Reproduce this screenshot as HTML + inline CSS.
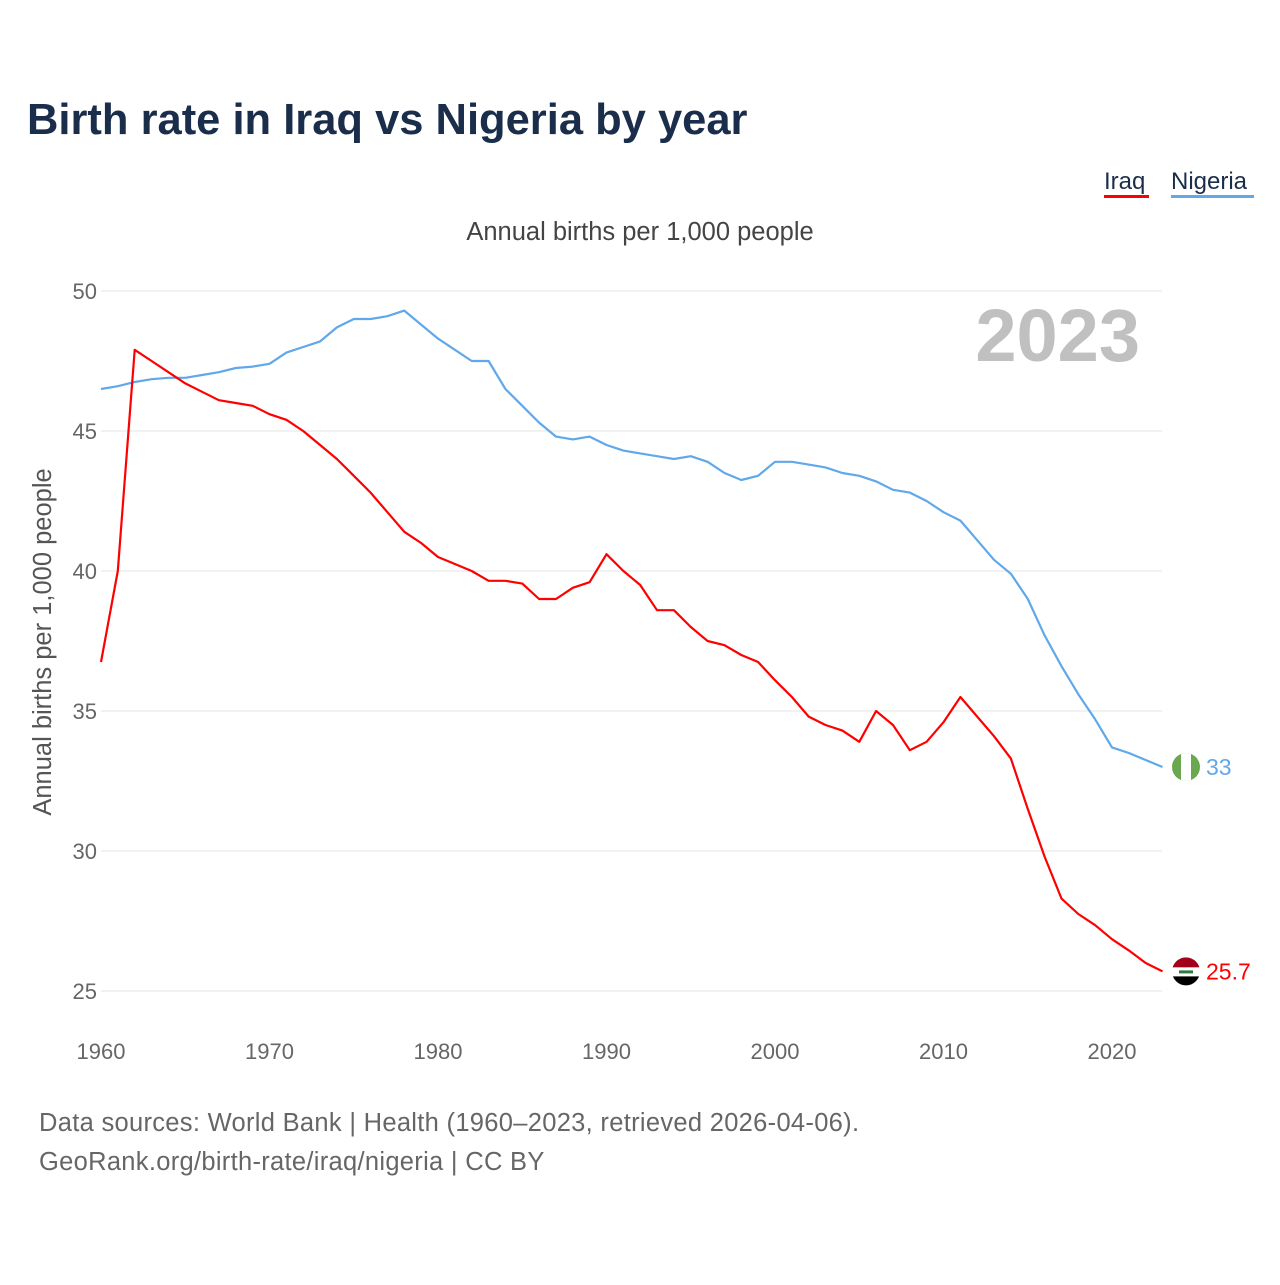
<!DOCTYPE html>
<html><head><meta charset="utf-8"><style>
html,body{margin:0;padding:0;background:#fff;}
body{width:1280px;height:1280px;overflow:hidden;font-family:"Liberation Sans",sans-serif;}
</style></head><body>
<svg id="chart" width="1280" height="1280" xmlns="http://www.w3.org/2000/svg" font-family="Liberation Sans, sans-serif">
<text x="27" y="134" font-size="43.5" font-weight="bold" fill="#1a2e4c">Birth rate in Iraq vs Nigeria by year</text>
<g>
<text x="1104" y="189" font-size="24" fill="#1a2e4c">Iraq</text>
<rect x="1104" y="195" width="45" height="3" fill="#ff0000"/>
<text x="1171" y="189" font-size="24" fill="#1a2e4c">Nigeria</text>
<rect x="1171" y="195" width="83" height="3" fill="#60a8ea"/>
</g>
<text x="640" y="240" font-size="25.5" fill="#444" text-anchor="middle">Annual births per 1,000 people</text>
<text transform="translate(51,642) rotate(-90)" font-size="25.5" fill="#555" text-anchor="middle">Annual births per 1,000 people</text>
<text x="1140" y="361" font-size="74" font-weight="bold" fill="#c0c0c0" text-anchor="end">2023</text>
<g id="grid"></g><g id="xt"></g><g id="lines"></g><g id="ends"></g>
<text x="39" y="1131" font-size="25.5" letter-spacing="0.3" fill="#666">Data sources: World Bank | Health (1960–2023, retrieved 2026-04-06).</text>
<text x="39" y="1170" font-size="25.5" letter-spacing="0.3" fill="#666">GeoRank.org/birth-rate/iraq/nigeria | CC BY</text>
</svg>
<script>
const startYear = 1960;
const yTicks = [25,30,35,40,45,50];
const xTicks = [1960,1970,1980,1990,2000,2010,2020];
const iraq = [36.75,40.0,47.9,47.5,47.1,46.7,46.4,46.1,46.0,45.9,45.6,45.4,45.0,44.5,44.0,43.4,42.8,42.1,41.4,41.0,40.5,40.25,40.0,39.65,39.65,39.55,39.0,39.0,39.4,39.6,40.6,40.0,39.5,38.6,38.6,38.0,37.5,37.35,37.0,36.75,36.1,35.5,34.8,34.5,34.3,33.9,35.0,34.5,33.6,33.9,34.6,35.5,34.8,34.1,33.3,31.5,29.8,28.3,27.75,27.35,26.85,26.45,26.0,25.7];
const nigeria = [46.5,46.6,46.75,46.85,46.9,46.9,47.0,47.1,47.25,47.3,47.4,47.8,48.0,48.2,48.7,49.0,49.0,49.1,49.3,48.8,48.3,47.9,47.5,47.5,46.5,45.9,45.3,44.8,44.7,44.8,44.5,44.3,44.2,44.1,44.0,44.1,43.9,43.5,43.25,43.4,43.9,43.9,43.8,43.7,43.5,43.4,43.2,42.9,42.8,42.5,42.1,41.8,41.1,40.4,39.9,39.0,37.7,36.6,35.6,34.7,33.7,33.5,33.25,33.0];
const NS="http://www.w3.org/2000/svg";
const x = yr => 101 + (yr-1960)*(1112-101)/60;
const y = v => 291 + (50-v)*28;
function mk(tag, attrs, parent){const e=document.createElementNS(NS,tag);for(const k in attrs)e.setAttribute(k,attrs[k]);parent.appendChild(e);return e;}
const grid=document.getElementById('grid');
yTicks.forEach(t=>{
  const l=mk('line',{x1:101,x2:1162,y1:y(t),y2:y(t),stroke:'#e4e4e4','stroke-width':1},grid);
  
  
  const tx=mk('text',{x:97,y:y(t)+8,'font-size':22,fill:'#666','text-anchor':'end'},grid);
  tx.textContent=t;
  
  
});
const xt=document.getElementById('xt');
xTicks.forEach(t=>{
  const tx=mk('text',{x:x(t),y:1059,'font-size':22,fill:'#666','text-anchor':'middle'},xt);
  tx.textContent=t;
  
  
});
const lines=document.getElementById('lines');
function drawLine(data,color,name){
  const d=data.map((v,i)=>(i?'L':'M')+x(startYear+i).toFixed(1)+','+y(v).toFixed(1)).join(' ');
  const p=mk('path',{d:d,fill:'none',stroke:color,'stroke-width':2.2,'stroke-linejoin':'round'},lines);
  
  
}
drawLine(nigeria,'#60a8ea','line-nigeria');
drawLine(iraq,'#ff0000','line-iraq');
const ends=document.getElementById('ends');
const ny=y(nigeria[nigeria.length-1]);
const ng=mk('g',{},ends);


mk('clipPath',{id:'cn'},ng).appendChild(document.createElementNS(NS,'circle')).setAttribute('r','14');
const cnc=document.querySelector('#cn circle');cnc.setAttribute('cx',1186);cnc.setAttribute('cy',ny);
mk('rect',{x:1172,y:ny-14,width:28,height:28,fill:'#6aa84f','clip-path':'url(#cn)'},ng);
mk('rect',{x:1181,y:ny-14,width:10,height:28,fill:'#fff','clip-path':'url(#cn)'},ng);
const nt=mk('text',{x:1206,y:ny+8,'font-size':23,fill:'#60a8ea'},ends);
nt.textContent=nigeria[nigeria.length-1];


const iy=y(iraq[iraq.length-1]);
const ig=mk('g',{},ends);


mk('clipPath',{id:'ci'},ig).appendChild(document.createElementNS(NS,'circle')).setAttribute('r','14');
const cic=document.querySelector('#ci circle');cic.setAttribute('cx',1186);cic.setAttribute('cy',iy);
mk('rect',{x:1172,y:iy-14,width:28,height:10,fill:'#a3001a','clip-path':'url(#ci)'},ig);
mk('rect',{x:1172,y:iy-4,width:28,height:9,fill:'#fff','clip-path':'url(#ci)'},ig);
mk('rect',{x:1179,y:iy-1,width:14,height:3,fill:'#2d7a3a'},ig);
mk('rect',{x:1172,y:iy+5,width:28,height:10,fill:'#000','clip-path':'url(#ci)'},ig);
const it=mk('text',{x:1206,y:iy+8,'font-size':23,fill:'#ff0000'},ends);
it.textContent=iraq[iraq.length-1];


</script>
</body></html>
